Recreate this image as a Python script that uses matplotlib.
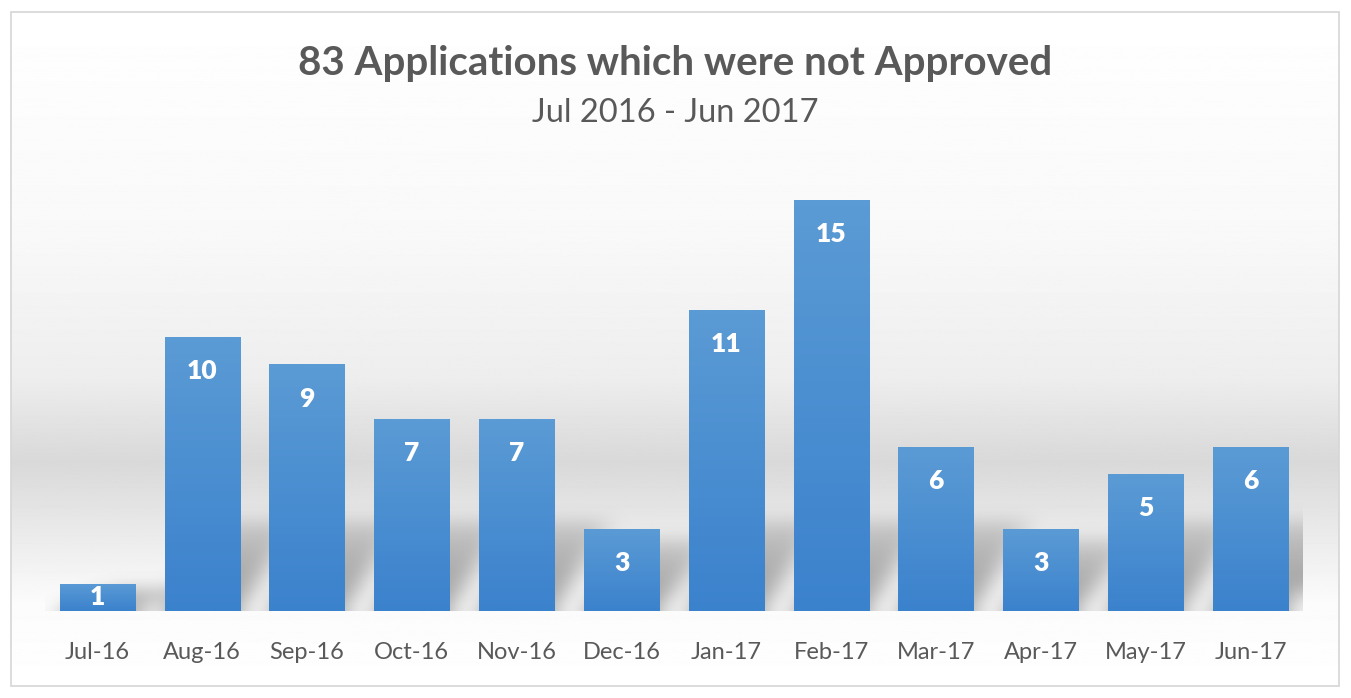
import numpy as np
import matplotlib.pyplot as plt
from matplotlib.colors import LinearSegmentedColormap
from matplotlib.patches import Rectangle

months = ['Jul-16', 'Aug-16', 'Sep-16', 'Oct-16', 'Nov-16', 'Dec-16',
          'Jan-17', 'Feb-17', 'Mar-17', 'Apr-17', 'May-17', 'Jun-17']
counts = [1, 10, 9, 7, 7, 3, 11, 15, 6, 3, 5, 6]

title = '83 Applications which were not Approved'
subtitle = 'Jul 2016 - Jun 2017'

W, H = 1351, 698
plt.rcParams['font.family'] = ['Lato', 'DejaVu Sans']

fig = plt.figure(figsize=(W / 100, H / 100), dpi=100)
fig.patch.set_facecolor('white')

# background: white top, grey band, light bottom
bg = fig.add_axes([0, 0, 1, 1])
bg.set_xlim(0, W)
bg.set_ylim(H, 0)
bg.axis('off')
rows = np.arange(H)
stops_y = [0, 230, 380, 465, 530, 610, H]
stops_v = [1.0, 0.975, 0.93, 0.85, 0.91, 0.985, 1.0]
shade = np.interp(rows, stops_y, stops_v)
grad = np.repeat(shade[:, None], 2, axis=1)
bg.imshow(grad, cmap='gray', vmin=0, vmax=1, aspect='auto',
          extent=(11, 1339, 686, 12), zorder=0)
bg.add_patch(Rectangle((11, 12), 1328, 674, fill=False,
                       edgecolor='#d6d6d6', lw=1.2, zorder=1))

ax = fig.add_axes([45 / W, 87 / H, 1258 / W, 438.4 / H])
ax.set_xlim(-0.5, 11.5)
ax.set_ylim(0, 16)
ax.patch.set_alpha(0)
for s in ax.spines.values():
    s.set_visible(False)
ax.set_yticks([])

x = np.arange(len(months))
bw = 0.72

# soft shadows behind bars
nx, ny = 1258, 438
gx = np.linspace(-0.5, 11.5, nx)
gy = np.linspace(0, 16, ny)
XX, YY = np.meshgrid(gx, gy)
sh = np.zeros_like(XX)
for xi, v in zip(x, counts):
    hs = min(v * 0.9, 3.4)
    dx = 0.55
    t = np.clip(YY / hs, 0, 1)
    inside = (YY <= hs) & (XX >= xi - bw / 2 + dx * t) & (XX <= xi + bw / 2 + dx * t)
    sh = np.maximum(sh, inside * (1 - t) ** 0.4)


def box_blur(a, k, axis):
    c = np.cumsum(np.pad(a, [(k, k) if i == axis else (0, 0) for i in range(2)],
                         mode='edge'), axis=axis)
    if axis == 0:
        return (c[2 * k:] - np.vstack([np.zeros((1, a.shape[1])), c[:-2 * k - 1]])) / (2 * k + 1)
    return (c[:, 2 * k:] - np.hstack([np.zeros((a.shape[0], 1)), c[:, :-2 * k - 1]])) / (2 * k + 1)


for _ in range(3):
    sh = box_blur(sh, 11, 1)
    sh = box_blur(sh, 7, 0)
rgba = np.zeros((ny, nx, 4))
rgba[..., :3] = 0.42
rgba[..., 3] = np.clip(sh * 0.65, 0, 1)
ax.imshow(rgba, origin='lower', extent=(-0.5, 11.5, 0, 16), aspect='auto',
          zorder=1, interpolation='bilinear')

# bars with vertical gradient
bar_cmap = LinearSegmentedColormap.from_list('b', ['#3b82cd', '#5b9bd5'])
bars = ax.bar(x, counts, width=bw, color='#4a90d2', zorder=2)
for b, v in zip(bars, counts):
    g = np.linspace(0, 1, 64)[:, None]
    im = ax.imshow(g, cmap=bar_cmap, origin='lower', aspect='auto',
                   extent=(b.get_x(), b.get_x() + bw, 0, v), zorder=3)
    im.set_clip_path(b)

for xi, v in zip(x, counts):
    ax.text(xi, max(v - 1.25, v / 2), str(v), ha='center', va='center',
            color='white', fontsize=19, fontweight='heavy', zorder=4)

ax.set_xticks(x)
ax.set_xticklabels(months, fontsize=17, color='#595959')
ax.tick_params(axis='x', length=0, pad=22)
ax.set_xlim(-0.5, 11.5)
ax.set_ylim(0, 16)

fig.text(0.5, 1 - 64 / H, title, ha='center', va='center', fontsize=29,
         fontweight='bold', color='#595959')
fig.text(0.5, 1 - 113 / H, subtitle, ha='center', va='center', fontsize=23.5,
         color='#595959')

fig.savefig('out.png', dpi=100, facecolor='white')
